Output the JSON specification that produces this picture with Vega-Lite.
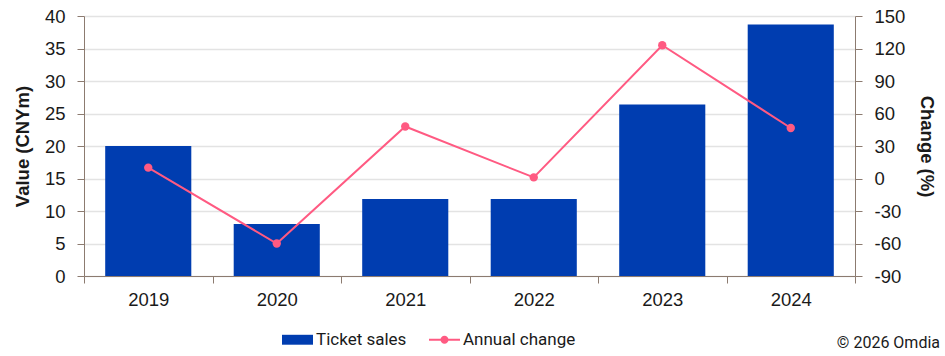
{
  "$schema": "https://vega.github.io/schema/vega-lite/v6.json",
  "width": 771,
  "height": 260,
  "autosize": "none",
  "padding": {"left": 84, "top": 16, "right": 90, "bottom": 80},
  "background": "white",
  "config": {
    "view": {"stroke": null},
    "axis": {
      "labelFont": "Liberation Sans",
      "labelFontSize": 18.5,
      "labelColor": "#1a1a1a",
      "titleFont": "Liberation Sans",
      "titleFontSize": 18.5,
      "titleFontWeight": "bold",
      "titleColor": "#1a1a1a",
      "domainColor": "#8c7b70",
      "tickColor": "#8c7b70",
      "tickSize": 7,
      "gridColor": "#e3e3e3",
      "gridWidth": 1.5
    }
  },
  "title": {
    "text": "© 2026 Omdia",
    "orient": "bottom",
    "anchor": "end",
    "frame": "group",
    "font": "Roboto",
    "fontSize": 16,
    "fontWeight": "normal",
    "color": "#1a1a1a",
    "dx": 85,
    "offset": -13
  },
  "data": {
    "values": [
      {"year": "2019", "sales": 20.0, "change": 10},
      {"year": "2020", "sales": 8.0, "change": -60},
      {"year": "2021", "sales": 11.85, "change": 48},
      {"year": "2022", "sales": 11.85, "change": 1},
      {"year": "2023", "sales": 26.4, "change": 123},
      {"year": "2024", "sales": 38.7, "change": 46.6}
    ]
  },
  "encoding": {
    "x": {
      "field": "year",
      "type": "nominal",
      "scale": {"paddingInner": 0, "paddingOuter": 0},
      "axis": {
        "title": null,
        "labelAngle": 0,
        "tickBand": "extent",
        "labelPadding": 7,
        "grid": false
      }
    }
  },
  "layer": [
    {
      "mark": {"type": "bar", "width": {"band": 0.67}},
      "encoding": {
        "y": {
          "field": "sales",
          "type": "quantitative",
          "scale": {"domain": [0, 40], "nice": false},
          "axis": {
            "title": "Value (CNYm)",
            "values": [0, 5, 10, 15, 20, 25, 30, 35, 40],
            "labelPadding": 12,
            "titlePadding": 12,
            "grid": true
          }
        },
        "color": {
          "datum": "Ticket sales",
          "scale": {"domain": ["Ticket sales", "Annual change"], "range": ["#003DB0", "#FF5A82"]},
          "legend": {
            "orient": "none",
            "legendX": 198,
            "legendY": 308,
            "direction": "horizontal",
            "title": null,
            "labelFont": "Roboto",
            "labelFontSize": 17,
            "labelColor": "#1a1a1a",
            "labelOffset": 3,
            "symbolSize": 961,
            "columnPadding": 22,
            "encode": {
              "symbols": {
                "update": {
                  "shape": [
                    {"test": "datum.value === 'Ticket sales'", "value": "M-1,-0.32H1V0.32H-1Z"},
                    {"value": "M-1,-0.065H1V0.065H-1Z M0.26,0 A0.26,0.26 0 1,1 -0.26,0 A0.26,0.26 0 1,1 0.26,0Z"}
                  ],
                  "fill": {"scale": "color", "field": "value"},
                  "strokeWidth": {"value": 0},
                  "opacity": {"value": 1},
                  "fillOpacity": {"value": 1}
                }
              }
            }
          }
        }
      }
    },
    {
      "mark": {"type": "line", "strokeWidth": 2, "point": {"filled": true, "size": 70, "opacity": 1}},
      "encoding": {
        "y": {
          "field": "change",
          "type": "quantitative",
          "scale": {"domain": [-90, 150], "nice": false},
          "axis": {
            "orient": "right",
            "title": "Change (%)",
            "values": [-90, -60, -30, 0, 30, 60, 90, 120, 150],
            "labelExpr": "replace(datum.label, '−', '-')",
            "labelPadding": 12,
            "titlePadding": 12,
            "grid": false
          }
        },
        "color": {"datum": "Annual change"}
      }
    }
  ],
  "resolve": {"scale": {"y": "independent"}}
}
